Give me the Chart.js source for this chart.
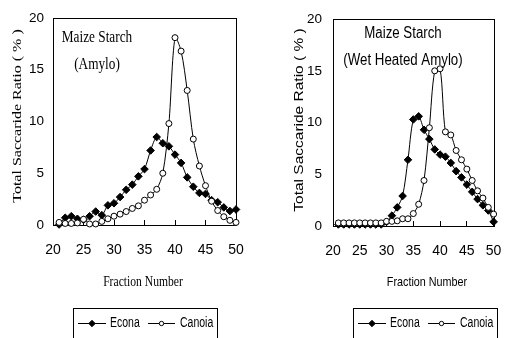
<!DOCTYPE html>
<html>
<head>
<meta charset="utf-8">
<script src="https://cdn.jsdelivr.net/npm/chart.js@4.4.0/dist/chart.umd.min.js"></script>
<style>
  body { margin: 0; background: #fff; }
  #wrap { position: relative; width: 523px; height: 338px; overflow: hidden; }
  #wrap canvas { position: absolute; left: 0; top: 0; }
</style>
</head>
<body>
<div id="wrap">
  <canvas id="chart-amylo" width="523" height="338"></canvas>
  <canvas id="chart-wet" width="523" height="338"></canvas>
</div>
<script>
// Données
const fractions = [21, 22, 23, 24, 25, 26, 27, 28, 29, 30,
                   31, 32, 33, 34, 35, 36, 37, 38, 39, 40,
                   41, 42, 43, 44, 45, 46, 47, 48, 49, 50];
const xTickValues = [20, 25, 30, 35, 40, 45, 50];
const yTickValues = [0, 5, 10, 15, 20];
const seriesNames = ['Econa', 'Canoia'];

// Maize Starch (Amylo)
const amyloEcona = [0.05, 0.7, 0.85, 0.6, 0.5, 0.85, 1.3, 0.95, 1.9, 2.1,
                    2.7, 3.4, 3.9, 4.7, 5.4, 7.2, 8.5, 7.9, 7.6, 6.8,
                    6.0, 4.6, 3.7, 3.1, 3.0, 2.4, 2.2, 1.7, 1.35, 1.5];
const amyloCanoia = [0.25, 0.15, 0.15, 0.2, 0.55, 0.1, 0.1, 0.35, 0.6, 0.85,
                     1.05, 1.3, 1.6, 1.85, 2.4, 2.9, 3.45, 5.0, 9.8, 18.1,
                     16.8, 13.0, 8.3, 5.7, 3.8, 2.3, 1.4, 0.8, 0.45, 0.25];

// Maize Starch (Wet Heated Amylo)
const wetEcona = [0.15, 0.15, 0.15, 0.15, 0.15, 0.15, 0.15, 0.15, 0.15, 0.4,
                  1.0, 1.8, 2.9, 6.4, 10.3, 10.6, 9.3, 8.4, 7.4, 6.9,
                  6.7, 6.1, 5.3, 4.7, 4.0, 3.3, 2.6, 2.0, 1.5, 0.4];
const wetCanoia = [0.3, 0.3, 0.3, 0.3, 0.3, 0.3, 0.3, 0.3, 0.3, 0.45,
                   0.45, 0.5, 0.7, 0.7, 1.2, 2.1, 4.4, 9.5, 15.0, 15.2,
                   9.1, 8.8, 7.3, 6.4, 5.5, 4.4, 3.4, 2.7, 1.8, 1.15];

const W = 523, H = 338;
const SQUEEZE = 0.83; // la figure d'origine est comprimée horizontalement

// Cadre autour de la zone de tracé
const framePlugin = {
    id: 'frame',
    beforeDatasetsDraw(chart) {
        const { ctx, chartArea: a } = chart;
        ctx.save();
        ctx.strokeStyle = '#000';
        ctx.lineWidth = 1;
        ctx.strokeRect(Math.round(a.left) + 0.5, Math.round(a.top) + 0.5,
                       Math.round(a.right - a.left), Math.round(a.bottom - a.top));
        ctx.restore();
    },
};

function drawText(ctx, item) {
    ctx.save();
    ctx.translate(item.x, item.y);
    ctx.scale(item.sq || SQUEEZE, 1);
    if (item.rot) ctx.rotate(-Math.PI / 2);
    ctx.font = item.f;
    ctx.fillStyle = '#000';
    ctx.textAlign = item.align || 'center';
    ctx.textBaseline = 'middle';
    ctx.fillText(item.t, 0, 0);
    ctx.restore();
}

// Titres, annotations et légende encadrée
function makeDecor(cfg) {
    return {
        id: 'decor',
        afterDraw(chart) {
            const ctx = chart.ctx;
            cfg.texts.forEach(item => drawText(ctx, item));

            const lg = cfg.legend;
            ctx.save();
            ctx.strokeStyle = '#000';
            ctx.lineWidth = 1;
            ctx.strokeRect(lg.x + 0.5, lg.y + 0.5, lg.w, 40);
            const cy = lg.y + 15;
            const slots = [[5, 33, 37], [75, 102, 107]];
            chart.data.datasets.forEach((ds, i) => {
                const [x1, x2, tx] = slots[i];
                ctx.beginPath();
                ctx.moveTo(lg.x + x1, cy + 0.5);
                ctx.lineTo(lg.x + x2, cy + 0.5);
                ctx.stroke();
                ctx.fillStyle = ds.pointBackgroundColor;
                Chart.helpers.drawPoint(ctx, {
                    pointStyle: ds.pointStyle,
                    radius: ds.pointStyle === 'circle' ? 2.2 : 3.2,
                    borderWidth: 1,
                    rotation: 0,
                }, lg.x + (x1 + x2) / 2, cy + 0.5);
                drawText(ctx, { t: ds.label, x: lg.x + tx, y: cy, f: '14px "Liberation Sans"', align: 'left', sq: 0.75 });
            });
            ctx.restore();
        },
    };
}

function buildChart(id, econa, canoia, area, yPad, decor) {
    const yWidth = 40;
    return new Chart(document.getElementById(id), {
        type: 'line',
        data: {
            datasets: [{
                label: seriesNames[0],
                data: fractions.map((f, i) => ({ x: f, y: econa[i] })),
                borderColor: '#000',
                borderWidth: 1,
                pointStyle: 'rectRot',
                pointRadius: 3.8,
                pointBackgroundColor: '#000',
                pointBorderColor: '#000',
                pointBorderWidth: 1,
                tension: 0.3,
                clip: false,
                order: 1,
            }, {
                label: seriesNames[1],
                data: fractions.map((f, i) => ({ x: f, y: canoia[i] })),
                borderColor: '#000',
                borderWidth: 1,
                pointStyle: 'circle',
                pointRadius: 3,
                pointBackgroundColor: '#fff',
                pointBorderColor: '#000',
                pointBorderWidth: 1,
                tension: 0.3,
                clip: false,
                order: 0,
            }],
        },
        options: {
            responsive: false,
            animation: false,
            devicePixelRatio: 1,
            layout: { padding: { left: area.left - yWidth, top: area.top, right: W - area.right, bottom: 0 } },
            plugins: { legend: { display: false }, tooltip: { enabled: false } },
            scales: {
                x: {
                    type: 'linear',
                    min: 20,
                    max: 50,
                    afterBuildTicks: s => { s.ticks = xTickValues.map(v => ({ value: v })); },
                    afterFit: s => { s.height = H - area.bottom; },
                    grid: { drawOnChartArea: false, tickLength: -5, color: '#000' },
                    border: { color: '#000' },
                    ticks: {
                        padding: 21.6,
                        color: '#000',
                        autoSkip: false,
                        maxRotation: 0,
                        font: { family: '"Liberation Sans Narrow", "Liberation Sans"', size: 14 },
                    },
                },
                y: {
                    min: 0,
                    max: 20,
                    afterBuildTicks: s => { s.ticks = yTickValues.map(v => ({ value: v })); },
                    afterFit: s => { s.width = yWidth; },
                    grid: { display: false, drawTicks: false },
                    border: { color: '#000' },
                    ticks: {
                        padding: yPad,
                        color: '#000',
                        font: { family: '"Liberation Sans Narrow", "Liberation Sans"', size: 13.5 },
                    },
                },
            },
        },
        plugins: [framePlugin, makeDecor(decor)],
    });
}

buildChart('chart-amylo', amyloEcona, amyloCanoia,
    { left: 53, right: 236, top: 18, bottom: 225 }, 9, {
        texts: [
            { t: 'Maize Starch', x: 97, y: 38, f: '16px "Liberation Serif"' },
            { t: '(Amylo)', x: 97, y: 65, f: '16px "Liberation Serif"' },
            { t: 'Total Saccaride Ratio ( % )', x: 18, y: 116, f: '16px "Liberation Serif"', rot: true },
            { t: 'Fraction Number', x: 143, y: 282, f: '14px "Liberation Serif"' },
        ],
        legend: { x: 73, y: 308, w: 144 },
    });

buildChart('chart-wet', wetEcona, wetCanoia,
    { left: 333, right: 516, top: 19, bottom: 226 }, 11, {
        texts: [
            { t: 'Maize Starch', x: 403, y: 34, f: '16px "Liberation Sans"' },
            { t: '(Wet Heated Amylo)', x: 403, y: 61, f: '16px "Liberation Sans"' },
            { t: 'Total Saccaride Ratio ( % )', x: 299, y: 120, f: '15.5px "Liberation Sans"', rot: true },
            { t: 'Fraction Number', x: 427, y: 282, f: '13px "Liberation Sans"' },
        ],
        legend: { x: 353, y: 308, w: 144 },
    });
</script>
</body>
</html>
